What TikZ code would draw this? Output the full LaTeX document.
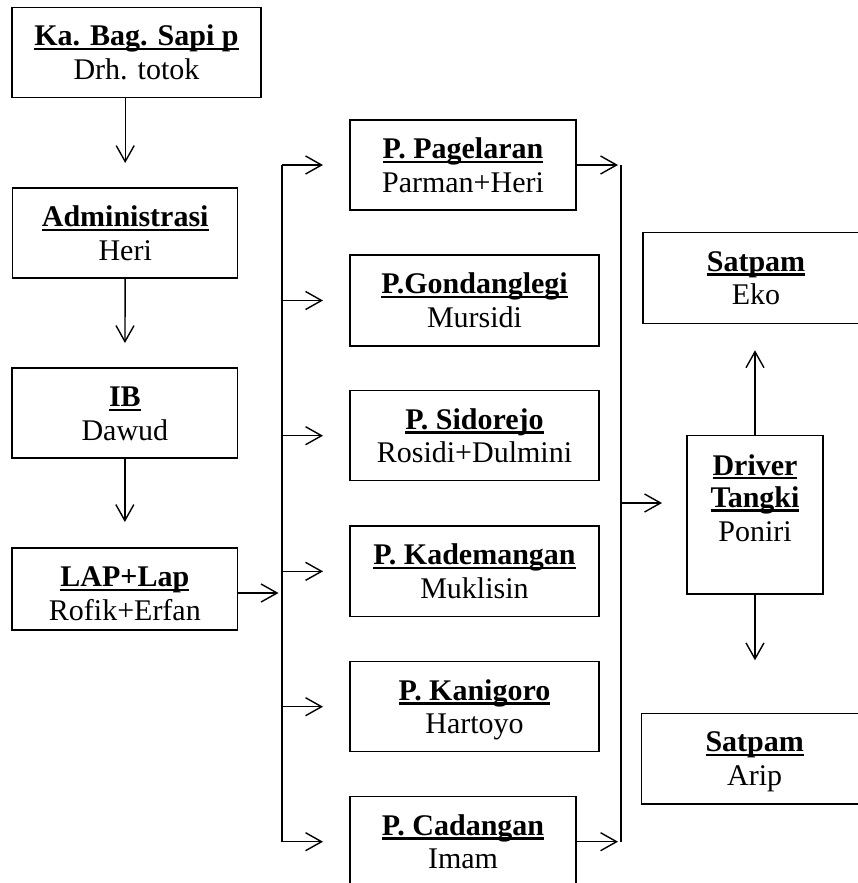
\documentclass[tikz,border=0pt]{standalone}
\usepackage{fontspec}
\setmainfont{Liberation Serif}
\usetikzlibrary{arrows.meta}
\newcommand\ulb[1]{\setbox0\hbox{\bfseries #1}\rlap{\rule[-4.4pt]{\wd0}{2.4pt}}\box0}
\tikzset{
  orgbox/.style={draw, line width=1.5pt, rectangle, inner sep=0pt, outer sep=0pt, anchor=north west},
  lbl/.style={anchor=base, inner sep=0pt, outer sep=0pt, font=\fontsize{30pt}{34pt}\selectfont},
  conn/.style={line width=1.4pt, -{Straight Barb[length=16pt,width=18pt,line width=1.4pt]}},
  trunk/.style={line width=1.4pt},
}
\newcommand\obox[7]{%
  \node[orgbox, minimum width=#4pt, minimum height=#5pt] (#1) at (#2,#3) {};
  \node[lbl] (#1t) at ([yshift=-38.5pt]#1.north) {\ulb{#6}};
  \node[lbl] (#1p) at ([yshift=-72pt]#1.north) {#7};
}
\begin{document}
\begin{tikzpicture}[x=1pt,y=-1pt]
\useasboundingbox (0,0) rectangle (858,883);
\fill[white] (0,0) rectangle (858,883);
\clip (0,0) rectangle (858,883);

\obox{ka}{12}{7.3}{249}{90.4}{Ka. Bag. Sapi p}{Drh. totok}
\obox{adm}{12.7}{188}{225}{90}{Administrasi}{Heri}
\obox{ib}{12}{368}{225.7}{90}{IB}{Dawud}
\obox{lap}{12}{548}{225.7}{82}{LAP+Lap}{Rofik+Erfan}

\obox{pag}{350}{120}{226}{90}{P. Pagelaran}{Parman+Heri}
\obox{gon}{350}{255}{249}{91}{P.Gondanglegi}{Mursidi}
\obox{sid}{350}{390.7}{249}{90}{P. Sidorejo}{Rosidi+Dulmini}
\obox{kad}{350}{526}{249}{90.7}{P. Kademangan}{Muklisin}
\obox{kan}{350}{661.7}{249}{90}{P. Kanigoro}{Hartoyo}
\obox{cad}{350}{796.7}{226}{90}{P. Cadangan}{Imam}

\obox{eko}{643}{232.7}{226}{90.6}{Satpam}{Eko}
\obox{arip}{641.7}{713.3}{226}{90.7}{Satpam}{Arip}

\node[orgbox, minimum width=136pt, minimum height=158.3pt] (drv) at (687,435.7) {};
\node[lbl] (drvt1) at ([yshift=-39.3pt]drv.north) {\ulb{Driver}};
\node[lbl] (drvt2) at ([yshift=-71.6pt]drv.north) {\ulb{Tangki}};
\node[lbl] (drvp) at ([yshift=-106pt]drv.north) {Poniri};

% vertical chain
\draw[conn, shorten >=25pt] (ka.south -| adm.north) -- (adm.north);
\draw[conn, shorten >=25pt] (adm.south) -- (ib.north);
\draw[conn, shorten >=26pt] (ib.south) -- (lap.north);

% left trunk
\coordinate (lt) at (282,165);
\coordinate (lb) at (282,841.7);
\draw[trunk] (lt) -- (lb);
\coordinate (lapout) at ([yshift=-4pt]lap.east);
\draw[conn, shorten >=3.5pt] (lapout) -- (lapout -| lt);
\foreach \n in {pag,gon,sid,kad,kan,cad}
  \draw[conn, shorten >=27pt] (lt |- \n.west) -- (\n.west);

% right trunk
\coordinate (rt) at (621,165);
\coordinate (rb) at (621,841.7);
\draw[trunk] (rt) -- (rb);
\draw[conn, shorten >=3pt] (pag.east) -- (pag.east -| rt);
\draw[conn, shorten >=3pt] (cad.east) -- (cad.east -| rt);
\coordinate (rm) at (621,503);
\draw[conn, shorten >=25pt] (rm) -- (rm -| drv.west);

% driver to satpam
\draw[conn, shorten >=27pt] (drv.north) -- (drv.north |- eko.south);
\draw[conn, shorten >=53pt] (drv.south) -- (drv.south |- arip.north);
\end{tikzpicture}
\end{document}
